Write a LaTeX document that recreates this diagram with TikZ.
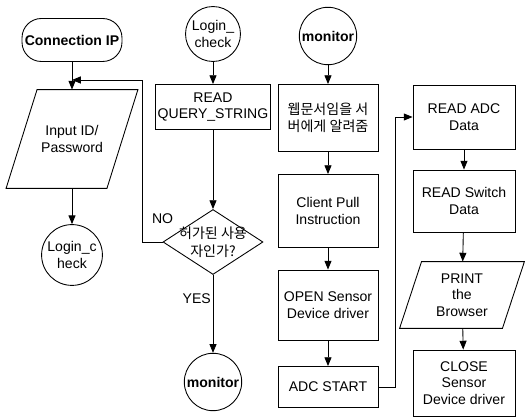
\documentclass[tikz,border=0pt]{standalone}
\usepackage{fontspec}
\setmainfont{Liberation Sans}
\newfontfamily\kr{Noto Sans CJK KR}
\usepackage{tikz}
\usetikzlibrary{arrows.meta,shapes.geometric}
\tikzset{>={Triangle[length=5pt,width=4pt]}}
\tikzset{%
    every node/.style={font=\fontsize{8}{9.5}\selectfont, align=center, inner sep=1pt},
    term/.style={draw, rounded corners=11pt, minimum width=2cm, minimum height=0.86cm,
        font=\fontsize{8}{9.5}\selectfont\bfseries},
    io/.style 2 args={minimum width=#1, minimum height=#2,
        append after command={\pgfextra{%
            \draw ([xshift=\ioslant]\tikzlastnode.north west)
                -- ([xshift=\ioslant]\tikzlastnode.north east)
                -- ([xshift=-\ioslant]\tikzlastnode.south east)
                -- ([xshift=-\ioslant]\tikzlastnode.south west) -- cycle;}}},
    joint/.style={draw, circle, minimum size=1.08cm},
    proc/.style={draw, rectangle, minimum width=2cm, minimum height=#1},
    decide/.style={draw, diamond, minimum width=2cm, minimum height=1.3cm, inner sep=0pt},
    flow/.style={->, line width=0.5pt}
}
\def\ioslant{0.31cm}

\begin{document}
\begin{tikzpicture}[x=0.02cm, y=-0.02cm, line width=0.5pt]
\useasboundingbox (0,0) rectangle (525,418);
\node[term] (conn) at (72,40) {Connection IP};
\node[io={2cm}{1.96cm}] (input) at (72,139) {Input ID/\\Password};
\node[joint] (loginc) at (72,255) {Login\_c\\heck};
\coordinate (back) at (72,80);

\node[joint] (login) at (213,34) {Login\_\\check};
\node[proc=0.9cm, minimum width=1.84cm] (query) at (213,107) {READ\\QUERY\_STRING};
\node[decide] (auth) at (213,242) {\makebox[0pt]{\kr\shortstack{허가된 사용\\자인가?}}};
\node[joint, font=\fontsize{8}{9.5}\selectfont\bfseries] (mon2) at (213,382) {monitor};

\node[joint, font=\fontsize{8}{9.5}\selectfont\bfseries] (mon1) at (328,36) {monitor};
\node[proc=1.34cm] (web) at (328,118) {\kr 웹문서임을 서\\\kr 버에게 알려줌};
\node[proc=1.46cm] (pull) at (328,211) {Client Pull\\Instruction};
\node[proc=1.4cm] (open) at (328,305) {OPEN Sensor\\Device driver};
\node[proc=0.82cm] (adc) at (328,387) {ADC START};

\node[proc=1.28cm, minimum width=2.04cm] (readadc) at (464,117) {READ ADC\\Data};
\node[proc=1.24cm, minimum width=2.04cm] (readsw) at (464,201) {READ Switch\\Data};
\def\ioslant{0.22cm}
\node[io={2.04cm}{1.32cm}] (print) at (462,295) {PRINT\\the\\Browser};
\node[proc=1.32cm, minimum width=2.04cm] (close) at (464,383) {CLOSE\\Sensor\\Device driver};

\draw (conn) -- (back);
\draw[flow] (back) -- (input);
\draw[flow] (input) -- (loginc);
\draw[flow] (login) -- (query);
\draw[flow] (query) -- (auth);
\draw[flow] (auth) -- node[pos=0.3, left]{YES} (mon2);
\draw[flow] (auth.west) node[anchor=south, yshift=9pt]{NO} -- ++(-20,0) |- (back);

\draw[flow] (mon1) -- (web);
\draw[flow] (web) -- (pull);
\draw[flow] (pull) -- (open);
\draw[flow] (open) -- (adc);
\draw[flow] (adc.east) -- ++(17,0) |- (readadc.west);
\draw[flow] (readadc) -- (readsw);
\draw[flow] (readsw) -- (print);
\draw[flow] (print) -- (close);
\end{tikzpicture}
\end{document}
